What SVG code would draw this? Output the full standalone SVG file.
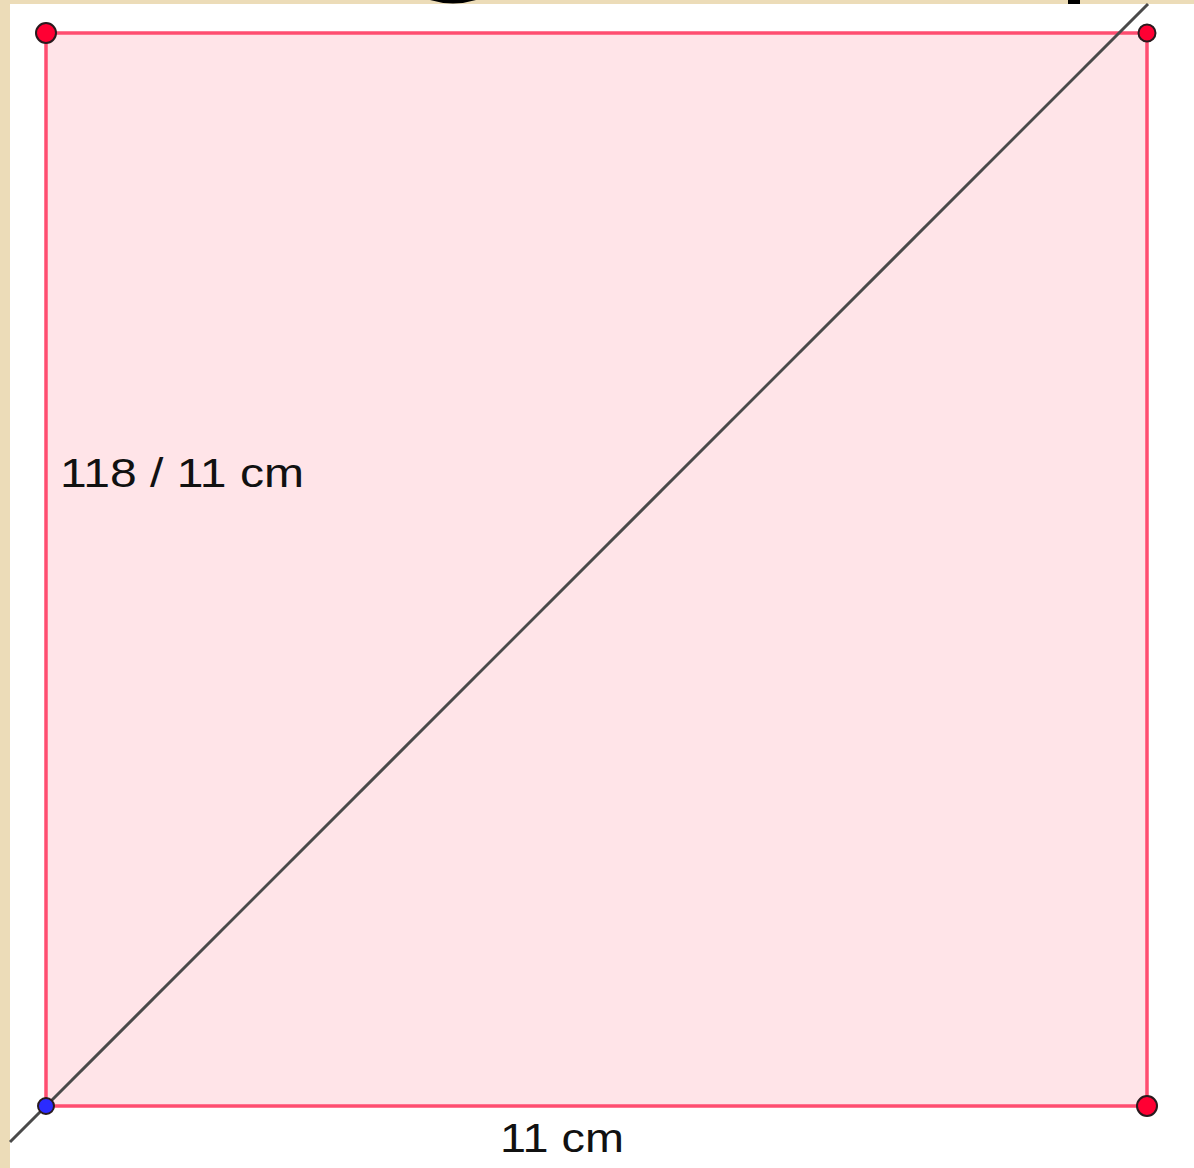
<svg xmlns="http://www.w3.org/2000/svg" width="1194" height="1168" viewBox="0 0 1194 1168">
<style>
.lbl{font-family:"Liberation Sans",Arial,sans-serif;font-size:41px;fill:#111}
.side{stroke:#ff4d70;stroke-width:3.5;fill:none}
.pt{stroke:#2a1a1e;stroke-width:2}
</style>
<rect x="0" y="0" width="1194" height="1168" fill="#ecdcb8"/>
<rect x="10" y="4" width="1184" height="1164" fill="#ffffff"/>
<path d="M430,0 Q453,7 476,0 Z" fill="#000"/>
<rect x="1068" y="0" width="12" height="4" fill="#000"/>
<g id="square">
<rect x="46" y="33" width="1101" height="1073" fill="#ffe4e8"/>
<rect class="side" x="46" y="33" width="1101" height="1073"/>
</g>
<g id="connectors">
<line x1="10" y1="1142" x2="1148" y2="4" stroke="#4a4a4a" stroke-width="3"/>
</g>
<g id="A"><circle class="pt" cx="46" cy="1106" r="8" fill="#2b2bff"/></g>
<g id="B"><circle class="pt" cx="1147" cy="1106" r="10" fill="#ff0033"/></g>
<g id="C"><circle class="pt" cx="1147" cy="33" r="8.5" fill="#ff0033"/></g>
<g id="D"><circle class="pt" cx="46" cy="33" r="10" fill="#ff0033"/></g>
<g id="labels">
<text class="lbl" x="60" y="487" textLength="244" lengthAdjust="spacingAndGlyphs">118 / 11 cm</text>
<text class="lbl" x="500" y="1152" textLength="124" lengthAdjust="spacingAndGlyphs">11 cm</text>
</g>
</svg>
